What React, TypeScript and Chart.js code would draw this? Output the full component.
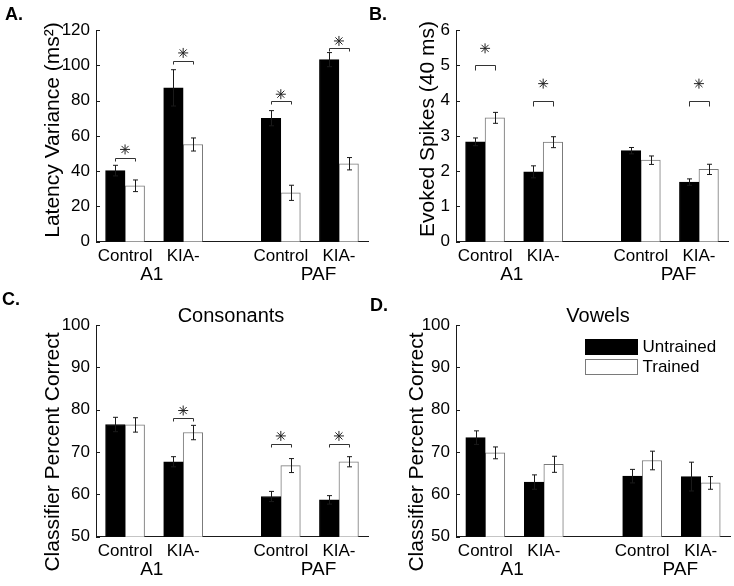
import React, { useEffect, useRef } from 'react';
import { Chart, registerables } from 'chart.js';

Chart.register(...registerables);

const FONT = '"Liberation Sans", Arial, Helvetica, sans-serif';
const INK = '#1a1a1a';

// ---- shared categories ----
const categories = ['Control', 'KIA-', 'Control', 'KIA-'];
const positions = [1, 2, 3.68, 4.68];
const groupLabels = ['A1', 'PAF'];
const groupPositions = [1.46, 4.33];
const seriesNames = ['Untrained', 'Trained'];

// ---- Panel A: latency variance ----
const latencyUntrained = [40.3, 87.2, 70.0, 103.2];
const latencyUntrainedErr = [3.0, 10.3, 4.3, 4.0];
const latencyTrained = [31.7, 55.1, 27.7, 44.2];
const latencyTrainedErr = [3.3, 3.7, 4.3, 3.5];
const latencyBracket = [47.7, 102.3, 79.6, 109.6];
const latencyStar = [52.3, 107.0, 83.6, 113.8];

// ---- Panel B: evoked spikes ----
const spikesUntrained = [2.83, 1.98, 2.58, 1.69];
const spikesUntrainedErr = [0.11, 0.17, 0.09, 0.09];
const spikesTrained = [3.51, 2.82, 2.31, 2.05];
const spikesTrainedErr = [0.155, 0.155, 0.12, 0.145];
const spikesBracket = [5.0, 4.0, null, 4.0];
const spikesStar = [5.48, 4.48, null, 4.48];

// ---- Panel C: consonants ----
const consUntrained = [76.5, 67.7, 59.5, 58.7];
const consUntrainedErr = [1.7, 1.2, 1.2, 1.0];
const consTrained = [76.4, 74.6, 66.8, 67.7];
const consTrainedErr = [1.7, 1.7, 1.65, 1.2];
const consBracket = [null, 78.0, 71.8, 71.8];
const consStar = [null, 79.8, 73.8, 73.8];

// ---- Panel D: vowels ----
const vowUntrained = [73.4, 62.9, 64.3, 64.2];
const vowUntrainedErr = [1.6, 1.7, 1.6, 3.4];
const vowTrained = [69.8, 67.1, 68.0, 62.7];
const vowTrainedErr = [1.4, 1.9, 2.2, 1.5];

type Panel = {
  key: string;
  left: number; top: number; width: number; height: number;
  padTop: number; xAxisHeight: number;
  letter: string; letterX: number; letterY: number;
  yTitle: string; yTitleX: number; yTitleY: number;
  title?: string; titleX?: number;
  yMin: number; yMax: number; yStep: number;
  untrained: number[]; untrainedErr: number[];
  trained: number[]; trainedErr: number[];
  bracket?: (number | null)[]; star?: (number | null)[];
  bracketDrop: number;
  legend?: boolean;
};

const panels: Panel[] = [
  {
    key: 'A', left: 0, top: 0, width: 374, height: 293, padTop: 30, xAxisHeight: 51.3,
    letter: 'A.', letterX: 5, letterY: 20,
    yTitle: 'Latency Variance (ms²)', yTitleX: 53, yTitleY: 130,
    yMin: 0, yMax: 120, yStep: 20,
    untrained: latencyUntrained, untrainedErr: latencyUntrainedErr,
    trained: latencyTrained, trainedErr: latencyTrainedErr,
    bracket: latencyBracket, star: latencyStar, bracketDrop: 3,
  },
  {
    key: 'B', left: 360, top: 0, width: 374, height: 293, padTop: 30, xAxisHeight: 51.3,
    letter: 'B.', letterX: 9, letterY: 20,
    yTitle: 'Evoked Spikes (40 ms)', yTitleX: 68, yTitleY: 129,
    yMin: 0, yMax: 6, yStep: 1,
    untrained: spikesUntrained, untrainedErr: spikesUntrainedErr,
    trained: spikesTrained, trainedErr: spikesTrainedErr,
    bracket: spikesBracket, star: spikesStar, bracketDrop: 5,
  },
  {
    key: 'C', left: 0, top: 280, width: 374, height: 306, padTop: 45, xAxisHeight: 49.3,
    letter: 'C.', letterX: 2, letterY: 25,
    yTitle: 'Classifier Percent Correct', yTitleX: 53, yTitleY: 172,
    title: 'Consonants', titleX: 231,
    yMin: 50, yMax: 100, yStep: 10,
    untrained: consUntrained, untrainedErr: consUntrainedErr,
    trained: consTrained, trainedErr: consTrainedErr,
    bracket: consBracket, star: consStar, bracketDrop: 3,
  },
  {
    key: 'D', left: 360, top: 280, width: 374, height: 306, padTop: 45, xAxisHeight: 49.3,
    letter: 'D.', letterX: 10, letterY: 31,
    yTitle: 'Classifier Percent Correct', yTitleX: 57, yTitleY: 172,
    title: 'Vowels', titleX: 238,
    yMin: 50, yMax: 100, yStep: 10,
    untrained: vowUntrained, untrainedErr: vowUntrainedErr,
    trained: vowTrained, trainedErr: vowTrainedErr,
    bracketDrop: 3, legend: true,
  },
];

function decorPlugin(p: Panel) {
  return {
    id: 'decor' + p.key,
    afterDatasetsDraw(chart: any) {
      const { ctx, scales } = chart;
      const y = scales.y;
      const m0 = chart.getDatasetMeta(0).data;
      const m1 = chart.getDatasetMeta(1).data;
      ctx.save();
      ctx.strokeStyle = INK;
      ctx.lineWidth = 1;
      const errBar = (cxRaw: number, v: number, e: number) => {
        const cx = Math.round(cxRaw) + 0.5;
        const t = y.getPixelForValue(v + e);
        const b = y.getPixelForValue(v - e);
        ctx.beginPath();
        ctx.moveTo(cx, t); ctx.lineTo(cx, b);
        ctx.moveTo(cx - 2.5, t); ctx.lineTo(cx + 2.5, t);
        ctx.moveTo(cx - 2.5, b); ctx.lineTo(cx + 2.5, b);
        ctx.stroke();
      };
      p.untrained.forEach((v, i) => errBar(m0[i].x, v, p.untrainedErr[i]));
      p.trained.forEach((v, i) => errBar(m1[i].x, v, p.trainedErr[i]));
      if (p.bracket) {
        ctx.strokeStyle = '#333';
        p.bracket.forEach((v, i) => {
          if (v == null) return;
          const yy = Math.round(y.getPixelForValue(v)) + 0.5;
          const x1 = Math.round(m0[i].x) + 0.5;
          const x2 = Math.round(m1[i].x) + 0.5;
          ctx.beginPath();
          ctx.moveTo(x1, yy + p.bracketDrop);
          ctx.lineTo(x1, yy);
          ctx.lineTo(x2, yy);
          ctx.lineTo(x2, yy + p.bracketDrop);
          ctx.stroke();
        });
      }
      ctx.restore();
    },
    afterDraw(chart: any) {
      const { ctx, chartArea: a, scales } = chart;
      const x = scales.x;
      const y = scales.y;
      ctx.save();
      // inward y ticks
      ctx.strokeStyle = INK;
      ctx.lineWidth = 1;
      y.ticks.forEach((t: any) => {
        const py = Math.round(y.getPixelForValue(t.value)) + 0.5;
        ctx.beginPath();
        ctx.moveTo(a.left, py);
        ctx.lineTo(a.left + 4, py);
        ctx.stroke();
      });
      ctx.fillStyle = '#000';
      // group labels
      ctx.font = `19px ${FONT}`;
      ctx.textAlign = 'center';
      ctx.textBaseline = 'middle';
      groupLabels.forEach((g, i) => {
        ctx.fillText(g, x.getPixelForValue(groupPositions[i]), a.bottom + 33);
      });
      // panel letter
      ctx.font = `bold 18px ${FONT}`;
      ctx.textAlign = 'left';
      ctx.textBaseline = 'alphabetic';
      ctx.fillText(p.letter, p.letterX, p.letterY);
      // title
      if (p.title) {
        ctx.font = `20px ${FONT}`;
        ctx.textAlign = 'center';
        ctx.textBaseline = 'middle';
        ctx.fillText(p.title, p.titleX, a.top - 9);
      }
      // y axis title
      ctx.save();
      ctx.translate(p.yTitleX, p.yTitleY);
      ctx.rotate(-Math.PI / 2);
      ctx.font = `21px ${FONT}`;
      ctx.textAlign = 'center';
      ctx.textBaseline = 'middle';
      ctx.fillText(p.yTitle, 0, 0);
      ctx.restore();
      // legend
      if (p.legend) {
        const ds = chart.data.datasets;
        const lx = Math.round(a.right - 145) + 0.5;
        [0, 1].forEach((k) => {
          const ly = Math.round(a.top + 14 + k * 20) + 0.5;
          ctx.fillStyle = ds[k].backgroundColor;
          ctx.fillRect(lx, ly, 52, 15);
          ctx.strokeStyle = ds[k].borderColor;
          ctx.strokeRect(lx, ly, 52, 15);
          ctx.fillStyle = '#000';
          ctx.font = `17px ${FONT}`;
          ctx.textAlign = 'left';
          ctx.textBaseline = 'middle';
          ctx.fillText(ds[k].label, lx + 57, ly + 8);
        });
      }
      ctx.restore();
    },
  };
}

function buildConfig(p: Panel): any {
  const tickFont = { family: FONT, size: 17 };
  const datasets: any[] = [
    {
      type: 'bar',
      label: seriesNames[0],
      data: positions.map((px, i) => ({ x: px, y: p.untrained[i] })),
      backgroundColor: '#000000',
      borderColor: '#000000',
      borderWidth: 1,
      barThickness: 19.5,
    },
    {
      type: 'bar',
      label: seriesNames[1],
      data: positions.map((px, i) => ({ x: px, y: p.trained[i] })),
      backgroundColor: '#ffffff',
      borderColor: '#7a7a7a',
      borderWidth: 1,
      barThickness: 19.5,
    },
  ];
  if (p.star) {
    datasets.push({
      type: 'scatter',
      label: 'significance',
      data: positions
        .map((px, i) => (p.star![i] == null ? null : { x: px, y: p.star![i] }))
        .filter((d) => d !== null),
      pointStyle: 'star',
      pointRadius: 5,
      pointBorderColor: '#222',
      borderColor: '#222',
      pointBorderWidth: 1,
      backgroundColor: '#222',
      showLine: false,
    });
  }
  return {
    type: 'bar',
    data: { datasets },
    options: {
      responsive: false,
      maintainAspectRatio: false,
      animation: false,
      events: [],
      layout: { padding: { left: 0, top: p.padTop, right: p.width - 370, bottom: 0 } },
      plugins: { legend: { display: false }, tooltip: { enabled: false }, title: { display: false } },
      scales: {
        x: {
          type: 'linear',
          offset: false,
          min: 0.5,
          max: 5.18,
          afterBuildTicks: (s: any) => {
            s.ticks = positions.map((v) => ({ value: v }));
          },
          afterFit: (s: any) => {
            s.height = p.xAxisHeight;
          },
          ticks: {
            autoSkip: false,
            maxRotation: 0,
            minRotation: 0,
            padding: 4,
            color: '#000',
            font: tickFont,
            callback: (v: number) => categories[positions.indexOf(v)] ?? '',
          },
          grid: { display: false, drawTicks: false, offset: false },
          border: { display: true, color: INK, width: 1 },
        },
        y: {
          type: 'linear',
          min: p.yMin,
          max: p.yMax,
          afterFit: (s: any) => {
            s.width = 96;
          },
          ticks: { stepSize: p.yStep, padding: 6, color: '#000', font: tickFont },
          grid: { display: false, drawTicks: false },
          border: { display: true, color: INK, width: 1 },
        },
      },
    },
    plugins: [decorPlugin(p)],
  };
}

function PanelChart({ p }: { p: Panel }) {
  const ref = useRef<HTMLCanvasElement>(null);
  useEffect(() => {
    if (!ref.current) return;
    const chart = new Chart(ref.current, buildConfig(p));
    return () => chart.destroy();
  }, [p]);
  return (
    <canvas
      ref={ref}
      width={p.width}
      height={p.height}
      style={{ position: 'absolute', left: p.left, top: p.top, width: p.width, height: p.height }}
    />
  );
}

export default function App() {
  return (
    <div
      style={{
        position: 'absolute',
        left: 0,
        top: 0,
        width: 734,
        height: 586,
        overflow: 'hidden',
        background: '#ffffff',
      }}
    >
      {panels.map((p) => (
        <PanelChart key={p.key} p={p} />
      ))}
    </div>
  );
}
